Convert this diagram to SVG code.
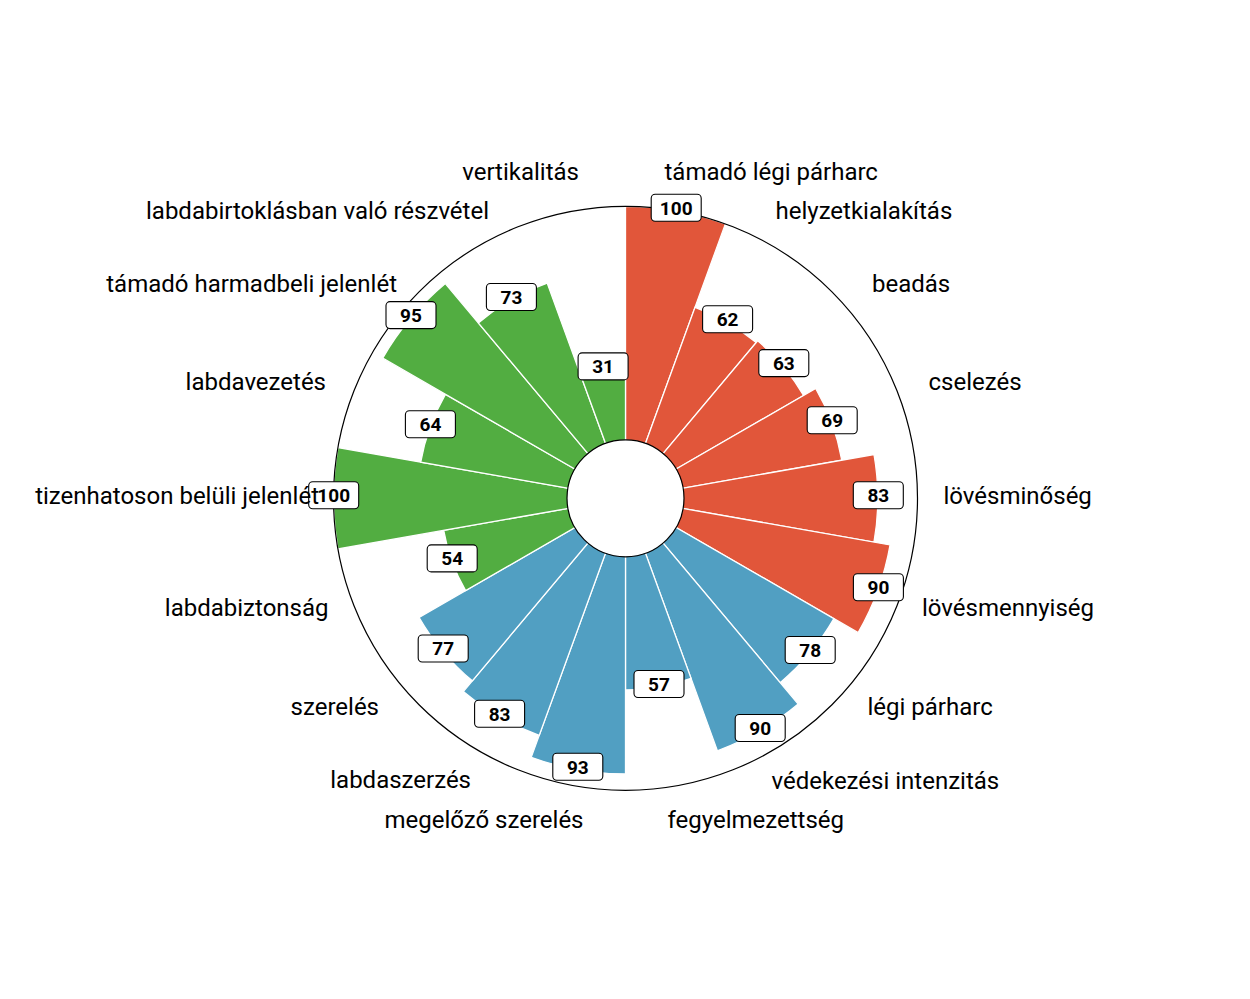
<svg xmlns="http://www.w3.org/2000/svg" width="1250" height="999" viewBox="0 0 1250 999">
<style>
.red{fill:#E1563A}
.grn{fill:#52AD41}
.blu{fill:#519FC2}
.bar{stroke:#FFFFFF;stroke-width:1.3;stroke-linejoin:miter}
.box{fill:#FFFFFF;stroke:#000000;stroke-width:1.1}
.val{font-family:Roboto,"Liberation Sans",sans-serif;font-size:19px;font-weight:bold;fill:#000000;text-anchor:middle}
.prm{font-family:Roboto,"Liberation Sans",sans-serif;font-size:24px;fill:#000000}
.st{text-anchor:start}
.en{text-anchor:end}
</style>
<rect x="0" y="0" width="1250" height="999" fill="#FFFFFF"/>
<g id="bars">
<path id="bar-tamado-legi-parharc" class="bar red" d="M625.5,498.3 L625.5,206.3 A292,292 0 0 1 725.37,223.91 Z"/>
<path id="bar-helyzetkialakitas" class="bar red" d="M625.5,498.3 L695.02,307.29 A203.27,203.27 0 0 1 756.16,342.59 Z"/>
<path id="bar-beadas" class="bar red" d="M625.5,498.3 L757.66,340.79 A205.61,205.61 0 0 1 803.56,395.49 Z"/>
<path id="bar-cselezes" class="bar red" d="M625.5,498.3 L815.70,388.49 A219.62,219.62 0 0 1 841.78,460.16 Z"/>
<path id="bar-lovesminoseg" class="bar red" d="M625.5,498.3 L873.98,454.49 A252.31,252.31 0 0 1 873.98,542.11 Z"/>
<path id="bar-lovesmennyiseg" class="bar red" d="M625.5,498.3 L890.07,544.95 A268.65,268.65 0 0 1 858.16,632.63 Z"/>
<path id="bar-legi-parharc" class="bar blu" d="M625.5,498.3 L833.89,618.62 A240.63,240.63 0 0 1 780.17,682.63 Z"/>
<path id="bar-vedekezesi-intenzitas" class="bar blu" d="M625.5,498.3 L798.19,704.10 A268.65,268.65 0 0 1 717.38,750.75 Z"/>
<path id="bar-fegyelmezettseg" class="bar blu" d="M625.5,498.3 L691.03,678.35 A191.60,191.60 0 0 1 625.5,689.90 Z"/>
<path id="bar-megelozo-szereles" class="bar blu" d="M625.5,498.3 L625.5,773.96 A275.66,275.66 0 0 1 531.22,757.34 Z"/>
<path id="bar-labdaszerzes" class="bar blu" d="M625.5,498.3 L539.21,735.39 A252.31,252.31 0 0 1 463.32,691.58 Z"/>
<path id="bar-szereles" class="bar blu" d="M625.5,498.3 L472.32,680.85 A238.30,238.30 0 0 1 419.13,617.45 Z"/>
<path id="bar-labdabiztonsag" class="bar grn" d="M625.5,498.3 L465.64,590.60 A184.59,184.59 0 0 1 443.71,530.35 Z"/>
<path id="bar-tizenhatoson" class="bar grn" d="M625.5,498.3 L337.94,549.01 A292,292 0 0 1 337.94,447.59 Z"/>
<path id="bar-labdavezetes" class="bar grn" d="M625.5,498.3 L420.72,462.19 A207.94,207.94 0 0 1 445.42,394.33 Z"/>
<path id="bar-tamado-harmadbeli" class="bar grn" d="M625.5,498.3 L382.72,358.13 A280.33,280.33 0 0 1 445.31,283.55 Z"/>
<path id="bar-labdabirtoklas" class="bar grn" d="M625.5,498.3 L478.33,322.91 A228.96,228.96 0 0 1 547.19,283.15 Z"/>
<path id="bar-vertikalitas" class="bar grn" d="M625.5,498.3 L580.73,375.30 A130.89,130.89 0 0 1 625.5,367.41 Z"/>
</g>
<g id="rings">
<circle id="outer-ring" cx="625.5" cy="498.3" r="292" fill="none" stroke="#000000" stroke-width="1.2"/>
<circle id="inner-circle" cx="625.5" cy="498.3" r="58.5" fill="#FFFFFF" stroke="#000000" stroke-width="1.2"/>
</g>
<g id="values">
<g id="v-tamado-legi-parharc" transform="translate(676.2,207.7)"><rect class="box" x="-25" y="-13.5" width="50" height="27" rx="4"/><text class="val" y="6.8">100</text></g>
<g id="v-helyzetkialakitas" transform="translate(727.6,319.3)"><rect class="box" x="-25" y="-13.5" width="50" height="27" rx="4"/><text class="val" y="6.8">62</text></g>
<g id="v-beadas" transform="translate(783.8,363.1)"><rect class="box" x="-25" y="-13.5" width="50" height="27" rx="4"/><text class="val" y="6.8">63</text></g>
<g id="v-cselezes" transform="translate(832.2,420.2)"><rect class="box" x="-25" y="-13.5" width="50" height="27" rx="4"/><text class="val" y="6.8">69</text></g>
<g id="v-lovesminoseg" transform="translate(878.3,495.3)"><rect class="box" x="-25" y="-13.5" width="50" height="27" rx="4"/><text class="val" y="6.8">83</text></g>
<g id="v-lovesmennyiseg" transform="translate(878.4,587.2)"><rect class="box" x="-25" y="-13.5" width="50" height="27" rx="4"/><text class="val" y="6.8">90</text></g>
<g id="v-legi-parharc" transform="translate(810.2,650.0)"><rect class="box" x="-25" y="-13.5" width="50" height="27" rx="4"/><text class="val" y="6.8">78</text></g>
<g id="v-vedekezesi-intenzitas" transform="translate(760.2,728.0)"><rect class="box" x="-25" y="-13.5" width="50" height="27" rx="4"/><text class="val" y="6.8">90</text></g>
<g id="v-fegyelmezettseg" transform="translate(659.0,684.0)"><rect class="box" x="-25" y="-13.5" width="50" height="27" rx="4"/><text class="val" y="6.8">57</text></g>
<g id="v-megelozo-szereles" transform="translate(577.8,766.8)"><rect class="box" x="-25" y="-13.5" width="50" height="27" rx="4"/><text class="val" y="6.8">93</text></g>
<g id="v-labdaszerzes" transform="translate(499.6,713.8)"><rect class="box" x="-25" y="-13.5" width="50" height="27" rx="4"/><text class="val" y="6.8">83</text></g>
<g id="v-szereles" transform="translate(443.2,648.5)"><rect class="box" x="-25" y="-13.5" width="50" height="27" rx="4"/><text class="val" y="6.8">77</text></g>
<g id="v-labdabiztonsag" transform="translate(452.2,558.4)"><rect class="box" x="-25" y="-13.5" width="50" height="27" rx="4"/><text class="val" y="6.8">54</text></g>
<g id="v-tizenhatoson" transform="translate(333.7,495.3)"><rect class="box" x="-25" y="-13.5" width="50" height="27" rx="4"/><text class="val" y="6.8">100</text></g>
<g id="v-labdavezetes" transform="translate(430.4,424.2)"><rect class="box" x="-25" y="-13.5" width="50" height="27" rx="4"/><text class="val" y="6.8">64</text></g>
<g id="v-tamado-harmadbeli" transform="translate(411.0,315.1)"><rect class="box" x="-25" y="-13.5" width="50" height="27" rx="4"/><text class="val" y="6.8">95</text></g>
<g id="v-labdabirtoklas" transform="translate(511.4,297.0)"><rect class="box" x="-25" y="-13.5" width="50" height="27" rx="4"/><text class="val" y="6.8">73</text></g>
<g id="v-vertikalitas" transform="translate(603.1,366.4)"><rect class="box" x="-25" y="-13.5" width="50" height="27" rx="4"/><text class="val" y="6.8">31</text></g>
</g>
<g id="params">
<text id="p-tamado-legi-parharc" class="prm st" x="664.5" y="180">támadó légi párharc</text>
<text id="p-helyzetkialakitas" class="prm st" x="775.5" y="218.5">helyzetkialakítás</text>
<text id="p-beadas" class="prm st" x="872" y="291.5">beadás</text>
<text id="p-cselezes" class="prm st" x="928.5" y="389.5">cselezés</text>
<text id="p-lovesminoseg" class="prm st" x="943.5" y="504">lövésminőség</text>
<text id="p-lovesmennyiseg" class="prm st" x="922" y="616">lövésmennyiség</text>
<text id="p-legi-parharc" class="prm st" x="867.5" y="715">légi párharc</text>
<text id="p-vedekezesi-intenzitas" class="prm st" x="771.5" y="788.5">védekezési intenzitás</text>
<text id="p-fegyelmezettseg" class="prm st" x="667.5" y="828">fegyelmezettség</text>
<text id="p-megelozo-szereles" class="prm en" x="583.5" y="827.5">megelőző szerelés</text>
<text id="p-labdaszerzes" class="prm en" x="471" y="788">labdaszerzés</text>
<text id="p-szereles" class="prm en" x="379" y="714.5">szerelés</text>
<text id="p-labdabiztonsag" class="prm en" x="328.5" y="615.5">labdabiztonság</text>
<text id="p-tizenhatoson" class="prm en" x="319" y="504">tizenhatoson belüli jelenlét</text>
<text id="p-labdavezetes" class="prm en" x="326" y="390">labdavezetés</text>
<text id="p-tamado-harmadbeli" class="prm en" x="397" y="291.7">támadó harmadbeli jelenlét</text>
<text id="p-labdabirtoklas" class="prm en" x="489" y="219">labdabirtoklásban való részvétel</text>
<text id="p-vertikalitas" class="prm en" x="579" y="180">vertikalitás</text>
</g>
</svg>
